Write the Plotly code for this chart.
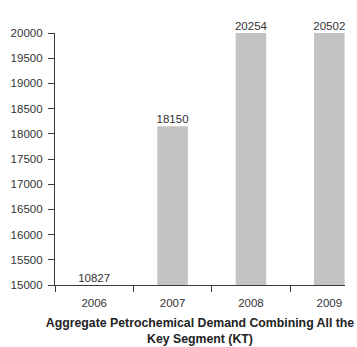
import numpy as np
import plotly.graph_objects as go

# Aggregate petrochemical demand by year (KT)
years = ["2006", "2007", "2008", "2009"]
demand_kt = [10827, 18150, 20254, 20502]

y_min, y_max = 15000, 20000
y_ticks = list(range(15000, 20001, 500))

axis_color = "#3a3a3a"
text_color = "#333333"
font_family = "Liberation Sans, Arial, sans-serif"

fig = go.Figure()

fig.add_trace(go.Bar(
    x=years,
    y=demand_kt,
    width=0.39,
    marker=dict(color="#c3c3c3", line=dict(width=0)),
    hoverinfo="x+y",
))

# value labels sit on top of each bar, kept inside the visible y-range
label_y = list(np.clip(demand_kt, y_min, y_max))
fig.add_trace(go.Scatter(
    x=years,
    y=label_y,
    mode="text",
    text=[str(v) for v in demand_kt],
    textposition="top center",
    textfont=dict(family=font_family, size=11.5, color=text_color),
    cliponaxis=False,
    hoverinfo="skip",
))

fig.update_layout(
    width=357,
    height=347,
    margin=dict(l=55, r=12, t=33, b=62),
    paper_bgcolor="white",
    plot_bgcolor="white",
    showlegend=False,
    bargap=0.6,
    font=dict(family=font_family, size=11.5, color=text_color),
)

fig.update_xaxes(
    type="category",
    range=[-0.5, 3.2],
    showline=True,
    linecolor=axis_color,
    linewidth=1.2,
    ticks="outside",
    tickson="boundaries",
    ticklen=6,
    tickcolor=axis_color,
    ticklabelstandoff=7,
    showgrid=False,
    automargin=False,
    tickfont=dict(family=font_family, size=11.5, color=text_color),
    title=dict(
        text="<b>Aggregate Petrochemical Demand Combining All the<br>Key Segment (KT)</b>",
        font=dict(family=font_family, size=12.3, color="#222222"),
        standoff=10,
    ),
)

fig.update_yaxes(
    range=[y_min, y_max],
    tickvals=y_ticks,
    ticktext=[str(t) for t in y_ticks],
    showline=True,
    linecolor=axis_color,
    linewidth=1.2,
    ticks="outside",
    ticklen=6,
    tickcolor=axis_color,
    ticklabelstandoff=3,
    showgrid=False,
    zeroline=False,
    automargin=False,
    tickfont=dict(family=font_family, size=11.5, color=text_color),
)

fig.write_html("out.html")
